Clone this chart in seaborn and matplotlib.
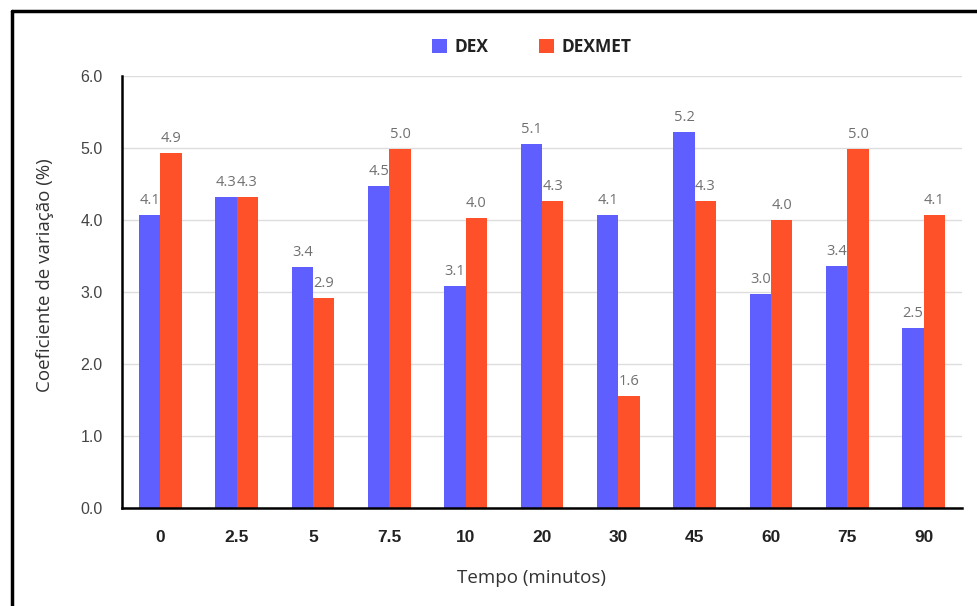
import matplotlib
matplotlib.use("Agg")
import matplotlib.pyplot as plt
from matplotlib.lines import Line2D
import seaborn as sns
import pandas as pd

categories = ["0", "2.5", "5", "7.5", "10", "20", "30", "45", "60", "75", "90"]
dex = [4.07, 4.32, 3.35, 4.47, 3.08, 5.06, 4.07, 5.22, 2.97, 3.36, 2.50]
dexmet = [4.93, 4.32, 2.92, 4.99, 4.03, 4.26, 1.56, 4.26, 4.00, 4.99, 4.07]
series = ["DEX", "DEXMET"]
yticks = [0, 1, 2, 3, 4, 5, 6]

df = pd.DataFrame({
    "tempo": categories * 2,
    "cv": dex + dexmet,
    "serie": [series[0]] * len(categories) + [series[1]] * len(categories),
})

sns.set_theme(style="white")
plt.rcParams["font.family"] = ["Open Sans", "DejaVu Sans"]

fig = plt.figure(figsize=(9.77, 6.06), dpi=100)
ax = fig.add_axes([0.1249, 0.1617, 0.8597, 0.7129])

sns.barplot(data=df, x="tempo", y="cv", hue="serie", order=categories,
            hue_order=series, palette=["#5F5FFF", "#FF5129"], width=0.56,
            saturation=1, linewidth=0, ax=ax, errorbar=None)

for c in ax.containers:
    ax.bar_label(c, fmt="%.1f", padding=5, fontsize=10.5, color="#707070")

ax.set_ylim(0, 6)
ax.set_xlim(-0.5, len(categories) - 0.5)
ax.set_yticks(yticks)
ax.set_yticklabels([f"{v:.1f}" for v in yticks], fontsize=11.5, color="#444444",
                   family="Liberation Sans")
ax.yaxis.grid(True, color="#dddddd", linewidth=1)
ax.set_axisbelow(True)
ax.tick_params(axis="y", length=0, pad=14)
ax.tick_params(axis="x", length=0, pad=16)
for lab in ax.get_xticklabels():
    lab.set_family("Liberation Sans")
    lab.set_fontweight("bold")
    lab.set_fontsize(12.5)
    lab.set_color("#222222")

for s in ["top", "right"]:
    ax.spines[s].set_visible(False)
for s in ["left", "bottom"]:
    ax.spines[s].set_color("black")
    ax.spines[s].set_linewidth(1.8)

ax.set_xlabel("Tempo (minutos)", fontsize=13.5, color="#333333", va="center", ha="center")
ax.set_ylabel("Coeficiente de variação (%)", fontsize=13.5, color="#333333", va="center", ha="center")
ax.xaxis.set_label_coords(0.488, -0.162)
ax.yaxis.set_label_coords(-0.0917, 0.539)

leg = ax.legend(loc="center", bbox_to_anchor=(0.488, 1.067), ncol=2, frameon=False,
                handlelength=0.85, handleheight=0.85, handletextpad=0.45,
                columnspacing=2.9, prop={"family": "Open Sans", "weight": "bold", "size": 12.5})
for t in leg.get_texts():
    t.set_color("#222222")

# outer frame (left and top edges)
fig.add_artist(Line2D([0.0118, 0.0118], [0.0, 0.9815], transform=fig.transFigure,
                      color="black", linewidth=2.5))
fig.add_artist(Line2D([0.0118, 1.0], [0.9815, 0.9815], transform=fig.transFigure,
                      color="black", linewidth=2.5))

fig.savefig("out.png", dpi=100)
